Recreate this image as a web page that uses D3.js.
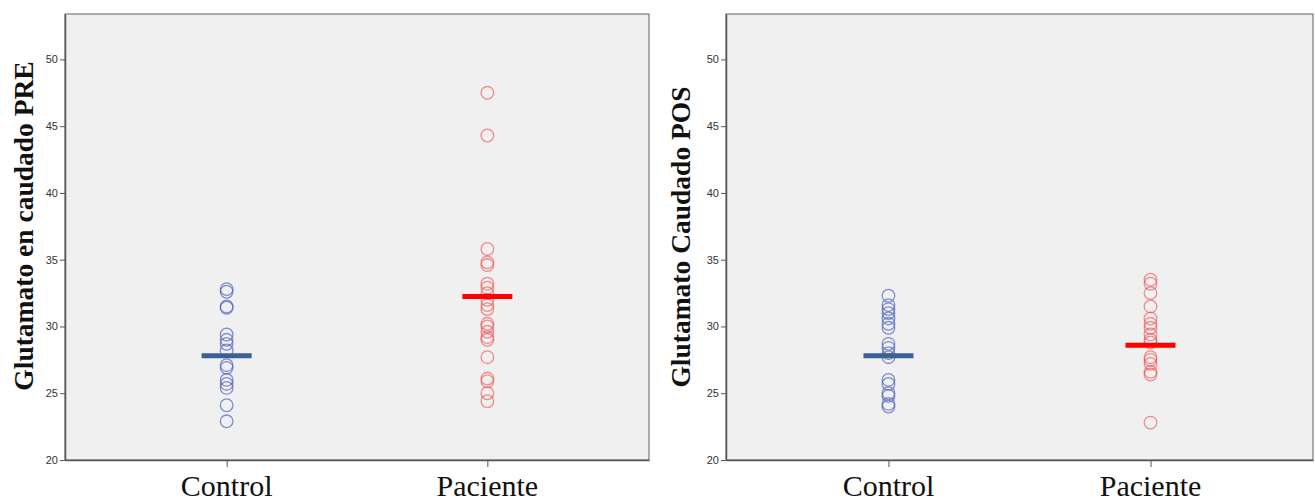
<!DOCTYPE html>
<html>
<head>
<meta charset="utf-8">
<script src="https://cdn.jsdelivr.net/npm/d3@7"></script>
<style>
  body { margin: 0; background: #fff; }
  .tick text { font-family: "Liberation Sans", Arial, sans-serif; font-size: 11px; fill: #333; }
  .domain, .tick line { stroke: #555; }
</style>
</head>
<body>
<div id="chart"></div>
<script>
const width = 1315;
const height = 503;

// datos
var categories = ["Control", "Paciente"];
var yTicks = [20, 25, 30, 35, 40, 45, 50];

var preControl = [32.8, 32.6, 31.5, 31.4, 29.4, 29.0, 28.7, 28.2, 27.1, 26.9, 26.0, 25.7, 25.4, 24.1, 22.9];
var prePaciente = [47.5, 44.3, 35.8, 34.8, 34.6, 33.2, 32.9, 32.5, 32.0, 31.6, 31.3, 30.2, 30.0, 29.6, 29.2, 29.0, 27.7, 26.1, 25.9, 25.0, 24.4];
var preMeans = [27.8, 32.25];

var posControl = [32.3, 31.6, 31.3, 31.0, 30.6, 30.2, 29.9, 28.7, 28.4, 28.0, 27.7, 26.0, 25.7, 25.0, 24.8, 24.2, 24.0];
var posPaciente = [33.5, 33.2, 32.5, 31.5, 30.6, 30.2, 29.9, 29.4, 29.0, 28.8, 27.7, 27.5, 27.2, 26.6, 26.4, 22.8];
var posMeans = [27.8, 28.6];

var circleColors = ["#4f62c0", "#f04848"];
var meanColors = ["#3c6095", "#ff0000"];

var svg = d3.select("#chart").append("svg")
    .attr("width", width).attr("height", height);

function drawPanel(p) {
    var w = p.right - p.left;
    var h = p.bottom - p.top;
    var g = svg.append("g").attr("transform", "translate(" + p.left + "," + p.top + ")");

    var y = d3.scaleLinear().domain([20, 53.4]).range([h, 0]);
    var x = d3.scalePoint().domain(categories).range([0, w]).padding(0.62);

    g.append("rect")
        .attr("width", w).attr("height", h)
        .attr("fill", "#f0f0f0")
        .attr("stroke", "#7a7a7a")
        .attr("stroke-width", 1.2);

    g.append("g")
        .call(d3.axisLeft(y).tickValues(yTicks).tickSize(5).tickSizeOuter(0).tickPadding(2))
        .select(".domain").attr("stroke-width", 1.5);

    var xa = g.append("g")
        .attr("transform", "translate(0," + h + ")")
        .call(d3.axisBottom(x).tickSize(7).tickSizeOuter(0).tickFormat(""));
    xa.select(".domain").attr("stroke-width", 1.5);

    g.selectAll(".cat")
        .data(categories)
        .enter()
        .append("text")
        .attr("class", "cat")
        .attr("x", function (d) { return x(d); })
        .attr("y", h + 36)
        .attr("text-anchor", "middle")
        .style("font-family", "'Liberation Serif', 'Times New Roman', serif")
        .style("font-size", "30px")
        .style("fill", "#111")
        .text(function (d) { return d; });

    svg.append("text")
        .attr("transform", "translate(" + p.titleX + "," + p.titleY + ") rotate(-90)")
        .attr("text-anchor", "middle")
        .style("font-family", "'Liberation Serif', 'Times New Roman', serif")
        .style("font-weight", "bold")
        .style("font-size", "27.5px")
        .style("fill", "#111")
        .text(p.title);

    p.series.forEach(function (vals, i) {
        g.append("g")
            .selectAll("circle")
            .data(vals)
            .enter()
            .append("circle")
            .attr("cx", x(categories[i]))
            .attr("cy", function (d) { return y(d); })
            .attr("r", 6.3)
            .attr("fill", "none")
            .attr("stroke", circleColors[i])
            .attr("stroke-opacity", i === 0 ? 0.7 : 0.6)
            .attr("stroke-width", 1.3);
    });

    g.append("g")
        .selectAll("line")
        .data(p.means)
        .enter()
        .append("line")
        .attr("x1", function (d, i) { return x(categories[i]) - 25; })
        .attr("x2", function (d, i) { return x(categories[i]) + 25; })
        .attr("y1", function (d) { return y(d); })
        .attr("y2", function (d) { return y(d); })
        .attr("stroke", function (d, i) { return meanColors[i]; })
        .attr("stroke-width", 5);
}

drawPanel({left: 65, right: 649, top: 14, bottom: 460,
    titleX: 33, titleY: 226, title: "Glutamato en caudado PRE",
    series: [preControl, prePaciente], means: preMeans});

drawPanel({left: 726, right: 1313, top: 14, bottom: 460,
    titleX: 690, titleY: 237, title: "Glutamato Caudado POS",
    series: [posControl, posPaciente], means: posMeans});
</script>
</body>
</html>
